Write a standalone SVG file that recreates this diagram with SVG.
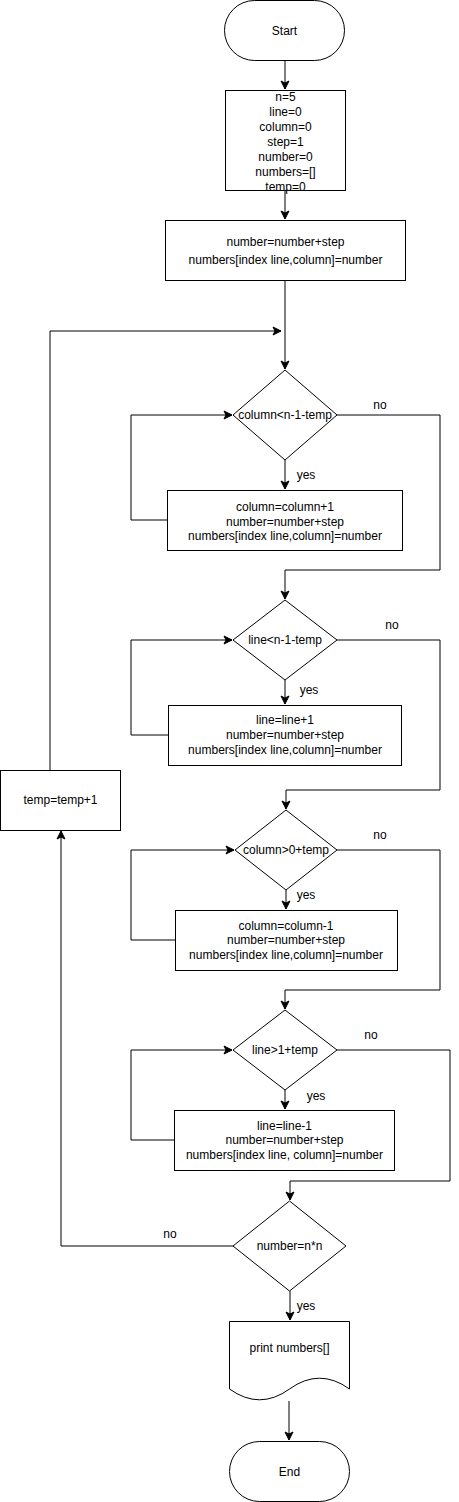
<svg xmlns="http://www.w3.org/2000/svg" width="459" height="1502" viewBox="0 0 459 1502">
<defs>
<marker id="arr" markerUnits="userSpaceOnUse" markerWidth="10" markerHeight="10" viewBox="0 0 10 10" refX="9" refY="5" orient="auto">
<path d="M1,1 L9,5 L1,9 L3,5 Z" fill="#000" stroke="#000" stroke-width="1"/>
</marker>
<style>
.s{fill:#fff;stroke:#000;stroke-width:1}
.t{font-family:"Liberation Sans",Arial,sans-serif;font-size:12px;fill:#000;text-anchor:middle}
.c{fill:none;stroke:#000;stroke-width:1}
</style>
</defs>
<rect width="459" height="1502" fill="#fff"/>
<g id="connectors">
<path class="c" d="M285,60 V89" marker-end="url(#arr)"/>
<path class="c" d="M285,190 V219" marker-end="url(#arr)"/>
<path class="c" d="M285,280 V369" marker-end="url(#arr)"/>
<path class="c" d="M50,770 V331 H281" marker-end="url(#arr)"/>
<path class="c" d="M285,460 V489" marker-end="url(#arr)"/>
<path class="c" d="M167,520 H131 V415 H232" marker-end="url(#arr)"/>
<path class="c" d="M337,415 H440 V570 H285 V599" marker-end="url(#arr)"/>
<path class="c" d="M285,680 V704" marker-end="url(#arr)"/>
<path class="c" d="M168,735 H131 V640 H232" marker-end="url(#arr)"/>
<path class="c" d="M337,640 H440 V790 H286 V809" marker-end="url(#arr)"/>
<path class="c" d="M286,890 V909" marker-end="url(#arr)"/>
<path class="c" d="M175,940 H131 V850 H234" marker-end="url(#arr)"/>
<path class="c" d="M337,850 H440 V990 H285 V1009" marker-end="url(#arr)"/>
<path class="c" d="M285,1090 V1109" marker-end="url(#arr)"/>
<path class="c" d="M174,1140 H131 V1050 H232" marker-end="url(#arr)"/>
<path class="c" d="M337,1050 H450 V1181 H290 V1200" marker-end="url(#arr)"/>
<path class="c" d="M233,1246 H61 V831" marker-end="url(#arr)"/>
<path class="c" d="M290,1291 V1320" marker-end="url(#arr)"/>
<path class="c" d="M289,1401 V1440" marker-end="url(#arr)"/>
<text class="t" x="380" y="409">no</text>
<text class="t" x="306" y="479">yes</text>
<text class="t" x="392" y="629">no</text>
<text class="t" x="309" y="694">yes</text>
<text class="t" x="380" y="839">no</text>
<text class="t" x="306" y="899">yes</text>
<text class="t" x="371" y="1039">no</text>
<text class="t" x="316" y="1100">yes</text>
<text class="t" x="170" y="1238">no</text>
<text class="t" x="306" y="1310">yes</text>
</g>
<g id="start">
<rect class="s" x="224.5" y="0.5" width="120" height="60" rx="30" ry="30"/>
<text class="t" x="284.5" y="34.5">Start</text>
</g>
<g id="init">
<rect class="s" x="225.5" y="90.5" width="120" height="100"/>
<text class="t" x="285.5" y="101">n=5</text>
<text class="t" x="285.5" y="116">line=0</text>
<text class="t" x="285.5" y="131">column=0</text>
<text class="t" x="285.5" y="146">step=1</text>
<text class="t" x="285.5" y="161">number=0</text>
<text class="t" x="285.5" y="176">numbers=[]</text>
<text class="t" x="285.5" y="191">temp=0</text>
</g>
<g id="first">
<rect class="s" x="165.5" y="220.5" width="240" height="60"/>
<text class="t" x="285.5" y="246">number=number+step</text>
<text class="t" x="285.5" y="264">numbers[index line,column]=number</text>
</g>
<g id="d1">
<path class="s" d="M285,370 L337,415 L285,460 L233,415 Z"/>
<text class="t" x="285" y="419">column&lt;n-1-temp</text>
</g>
<g id="b1">
<rect class="s" x="167.5" y="490.5" width="235" height="60"/>
<text class="t" x="285" y="511">column=column+1</text>
<text class="t" x="285" y="526">number=number+step</text>
<text class="t" x="285" y="540">numbers[index line,column]=number</text>
</g>
<g id="d2">
<path class="s" d="M285,600 L337,640 L285,680 L233,640 Z"/>
<text class="t" x="285" y="644">line&lt;n-1-temp</text>
</g>
<g id="b2">
<rect class="s" x="168.5" y="705.5" width="233" height="60"/>
<text class="t" x="285" y="724">line=line+1</text>
<text class="t" x="285" y="739">number=number+step</text>
<text class="t" x="285" y="754">numbers[index line,column]=number</text>
</g>
<g id="temp">
<rect class="s" x="0.5" y="770.5" width="120" height="60"/>
<text class="t" x="60.5" y="804">temp=temp+1</text>
</g>
<g id="d3">
<path class="s" d="M286,810 L337,850 L286,890 L235,850 Z"/>
<text class="t" x="286" y="854">column&gt;0+temp</text>
</g>
<g id="b3">
<rect class="s" x="175.5" y="910.5" width="222" height="60"/>
<text class="t" x="286" y="930">column=column-1</text>
<text class="t" x="286" y="944">number=number+step</text>
<text class="t" x="286" y="959">numbers[index line,column]=number</text>
</g>
<g id="d4">
<path class="s" d="M285,1010 L337,1050 L285,1090 L233,1050 Z"/>
<text class="t" x="285" y="1054">line&gt;1+temp</text>
</g>
<g id="b4">
<rect class="s" x="174.5" y="1110.5" width="220" height="60"/>
<text class="t" x="284.5" y="1130">line=line-1</text>
<text class="t" x="284.5" y="1144">number=number+step</text>
<text class="t" x="284.5" y="1159">numbers[index line, column]=number</text>
</g>
<g id="d5">
<path class="s" d="M289.5,1201 L346,1246 L289.5,1291 L233,1246 Z"/>
<text class="t" x="289.5" y="1250">number=n*n</text>
</g>
<g id="print">
<path class="s" d="M229.5,1321.5 H349.5 V1389 Q319.5,1367.4 289.5,1389 Q259.5,1410.6 229.5,1389 Z"/>
<text class="t" x="289.5" y="1352">print numbers[]</text>
</g>
<g id="end">
<rect class="s" x="229.5" y="1441.5" width="120" height="60" rx="30" ry="30"/>
<text class="t" x="289.5" y="1475.5">End</text>
</g>
</svg>
